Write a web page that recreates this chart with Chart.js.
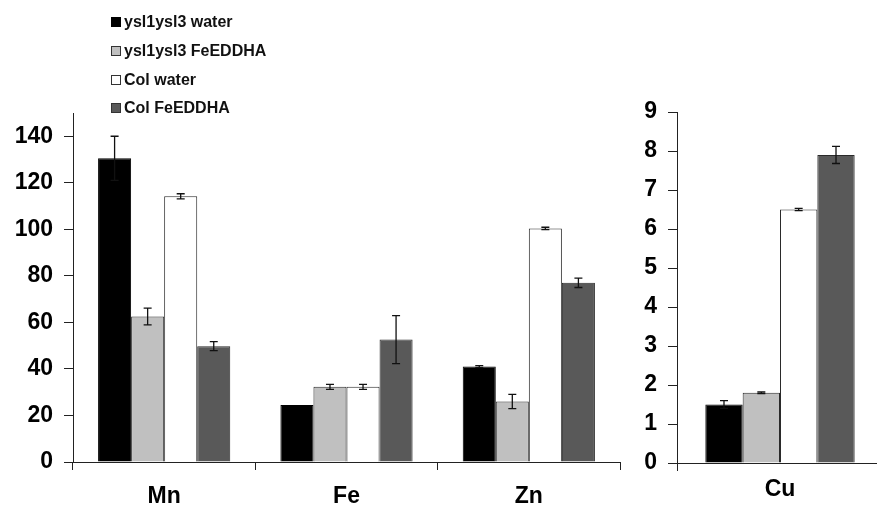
<!DOCTYPE html>
<html>
<head>
<meta charset="utf-8">
<script src="https://cdn.jsdelivr.net/npm/chart.js@4.4.0/dist/chart.umd.min.js"></script>
<style>
  html, body { margin:0; padding:0; background:#fff; overflow:hidden; width:877px; height:517px; }
  #wrapL { position:absolute; left:0; top:0; width:640px; height:517px; }
  #wrapR { position:absolute; left:620px; top:0; width:280px; height:517px; }
  #legend { position:absolute; left:111px; top:0; font-family:'Liberation Sans', Arial, sans-serif; font-weight:bold; font-size:16px; color:#111; }
  .item { position:absolute; left:0; white-space:nowrap; height:18px; line-height:18px; }
  .box { display:inline-block; width:8px; height:8px; border:1px solid #222; margin-right:3px; vertical-align:middle; position:relative; top:-1px; }
</style>
</head>
<body>
<div id="wrapL"><canvas id="cL"></canvas></div>
<div id="wrapR"><canvas id="cR"></canvas></div>
<div id="legend"></div>
<script>
// ---- data ----
const categoriesLeft = ['Mn', 'Fe', 'Zn'];
const categoriesRight = ['Cu'];
const seriesNames = ['ysl1ysl3 water', 'ysl1ysl3 FeEDDHA', 'Col water', 'Col FeEDDHA'];
const seriesColors = ['#000000', '#c0c0c0', '#ffffff', '#595959'];

const yslWaterLeft   = [130.5, 24.5, 41.0];
const yslFeLeft      = [62.5, 32.3, 26.0];
const colWaterLeft   = [114.2, 32.3, 100.4];
const colFeLeft      = [49.8, 52.6, 77.0];
const yslWaterLeftErr = [9.5, 0, 0.4];
const yslFeLeftErr    = [3.6, 1.1, 3.1];
const colWaterLeftErr = [1.1, 1.1, 0.5];
const colFeLeftErr    = [1.9, 10.3, 2.0];

const yslWaterCu = [1.5];
const yslFeCu    = [1.8];
const colWaterCu = [6.5];
const colFeCu    = [7.9];
const yslWaterCuErr = [0.1];
const yslFeCuErr    = [0.02];
const colWaterCuErr = [0.03];
const colFeCuErr    = [0.22];

const leftTicks = [0, 20, 40, 60, 80, 100, 120, 140];
const rightTicks = [0, 1, 2, 3, 4, 5, 6, 7, 8, 9];

// ---- legend (HTML text) ----
const legendRows = [22, 51, 80, 108];
const legendEl = document.getElementById('legend');
seriesNames.forEach((n, i) => {
  const d = document.createElement('div');
  d.className = 'item';
  d.style.top = (legendRows[i] - 9) + 'px';
  const b = document.createElement('span');
  b.className = 'box';
  b.style.background = seriesColors[i];
  b.style.borderColor = i === 0 ? '#000' : '#333';
  d.appendChild(b);
  d.appendChild(document.createTextNode(n));
  legendEl.appendChild(d);
});

// ---- error bar plugin ----
const errorBars = {
  id: 'errorBars',
  afterDatasetsDraw(chart) {
    const ctx = chart.ctx;
    const y = chart.scales.y;
    ctx.save();
    ctx.strokeStyle = '#111';
    ctx.lineWidth = 1.3;
    chart.data.datasets.forEach((ds, di) => {
      const meta = chart.getDatasetMeta(di);
      meta.data.forEach((bar, i) => {
        const v = ds.data[i], e = ds.errors[i];
        if (!e) return;
        const yt = y.getPixelForValue(v + e), yb = y.getPixelForValue(v - e);
        const x = bar.x, cw = 4;
        ctx.beginPath();
        ctx.moveTo(x, yt); ctx.lineTo(x, yb);
        ctx.moveTo(x - cw, yt); ctx.lineTo(x + cw, yt);
        ctx.moveTo(x - cw, yb); ctx.lineTo(x + cw, yb);
        ctx.stroke();
      });
    });
    ctx.restore();
  }
};

const FONT = { family: "'Liberation Sans', Arial, sans-serif", weight: 'bold', size: 23 };

function makeDatasets(vals, errs) {
  return vals.map((v, i) => ({
    label: seriesNames[i],
    data: v,
    errors: errs[i],
    backgroundColor: seriesColors[i],
    borderColor: i === 0 ? '#000' : '#2a2a2a',
    borderWidth: 1,
    categoryPercentage: 0.725,
    barPercentage: 1.0
  }));
}

function makeOptions(max, tickList, yWidth, xHeight, pad, xPad) {
  return {
    responsive: false,
    animation: false,
    devicePixelRatio: 1,
    layout: { padding: pad },
    plugins: { legend: { display: false }, tooltip: { enabled: false } },
    scales: {
      x: {
        grid: { display: true, drawOnChartArea: false, drawTicks: true, tickLength: 8, color: '#222', offset: true },
        border: { display: true, color: '#222', width: 1 },
        ticks: { font: FONT, color: '#000', padding: xPad },
        afterFit(s) { s.height = xHeight; }
      },
      y: {
        min: 0, max: max,
        grid: { display: true, drawOnChartArea: false, drawTicks: true, tickLength: 9, color: '#222' },
        border: { display: true, color: '#222', width: 1 },
        ticks: { font: FONT, color: '#000', padding: 11 },
        afterBuildTicks(s) { s.ticks = tickList.map(v => ({ value: v })); },
        afterFit(s) { s.width = yWidth; }
      }
    }
  };
}

const cL = document.getElementById('cL');
cL.width = 640; cL.height = 517;
new Chart(cL, {
  type: 'bar',
  data: {
    labels: categoriesLeft,
    datasets: makeDatasets(
      [yslWaterLeft, yslFeLeft, colWaterLeft, colFeLeft],
      [yslWaterLeftErr, yslFeLeftErr, colWaterLeftErr, colFeLeftErr])
  },
  options: makeOptions(150, leftTicks, 73, 55, { top: 113, right: 20, left: 0, bottom: 0 }, 13),
  plugins: [errorBars]
});

const cR = document.getElementById('cR');
cR.width = 280; cR.height = 517;
new Chart(cR, {
  type: 'bar',
  data: {
    labels: categoriesRight,
    datasets: makeDatasets(
      [yslWaterCu, yslFeCu, colWaterCu, colFeCu],
      [yslWaterCuErr, yslFeCuErr, colWaterCuErr, colFeCuErr])
  },
  options: makeOptions(9, rightTicks, 57, 54, { top: 112, right: 17, left: 0, bottom: 0 }, 5),
  plugins: [errorBars]
});
</script>
</body>
</html>
